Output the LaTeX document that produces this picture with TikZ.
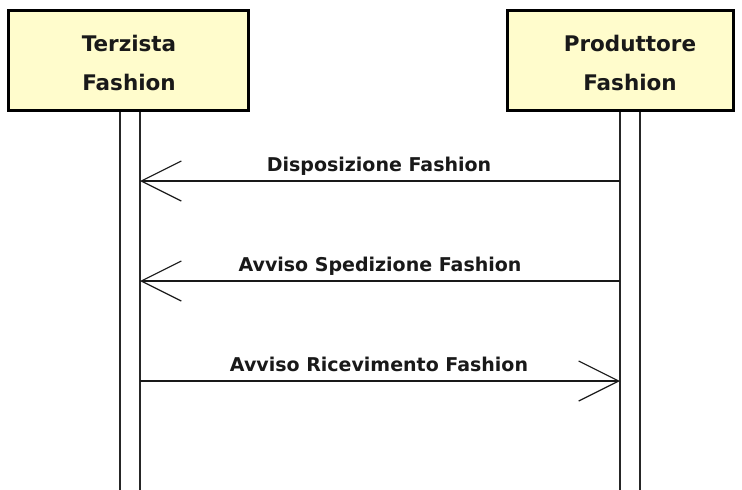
\documentclass[tikz,border=0pt]{standalone}
\usepackage{fontspec}
\setmainfont{DejaVu Sans}
\usetikzlibrary{arrows.meta}
\begin{document}
\begin{tikzpicture}[x=1pt,y=-1pt,
  actor/.style={draw=black, line width=3pt, fill=yellow!20, minimum width=#1, minimum height=100pt, inner sep=0pt},
  actortext/.style={font=\fontsize{21.5}{39}\selectfont\bfseries, align=center, text=black!90},
  lifeline/.style={draw=black!85, line width=1.8pt, minimum width=20pt, inner sep=0pt},
  msg/.style={line width=1.4pt, draw=black!90, -{Straight Barb[length=40pt,width=40pt,line width=1.2pt]}},
  lbl/.style={font=\fontsize{19}{22}\selectfont\bfseries, text=black!90, anchor=base}]
\useasboundingbox (0,0) rectangle (742,490);
\fill[white] (0,0) rectangle (742,490);
% lifelines
\node[lifeline, minimum height=385pt, anchor=north] (ll1) at (130,108) {};
\node[lifeline, minimum height=385pt, anchor=north] (ll2) at (630,108) {};
% actors
\node[actor=240pt] (a1) at (128,60) {};
\node[actortext] (a1t) at (129,62.5) {Terzista\\Fashion};
\node[actor=226pt] (a2) at (620,60) {};
\node[actortext] (a2t) at (630,62.5) {Produttore\\Fashion};
% message coordinates
\coordinate (m1s) at (620,181); \coordinate (m1e) at (140,181);
\coordinate (m2s) at (620,281); \coordinate (m2e) at (140,281);
\coordinate (m3s) at (140,381); \coordinate (m3e) at (620,381);
\draw[msg] (m1s) -- (m1e);
\draw[msg] (m2s) -- (m2e);
\draw[msg] (m3s) -- (m3e);
\node[lbl] (l1) at (379,171) {Disposizione Fashion};
\node[lbl] (l2) at (380,271) {Avviso Spedizione Fashion};
\node[lbl] (l3) at (379,371) {Avviso Ricevimento Fashion};
\end{tikzpicture}
\end{document}
